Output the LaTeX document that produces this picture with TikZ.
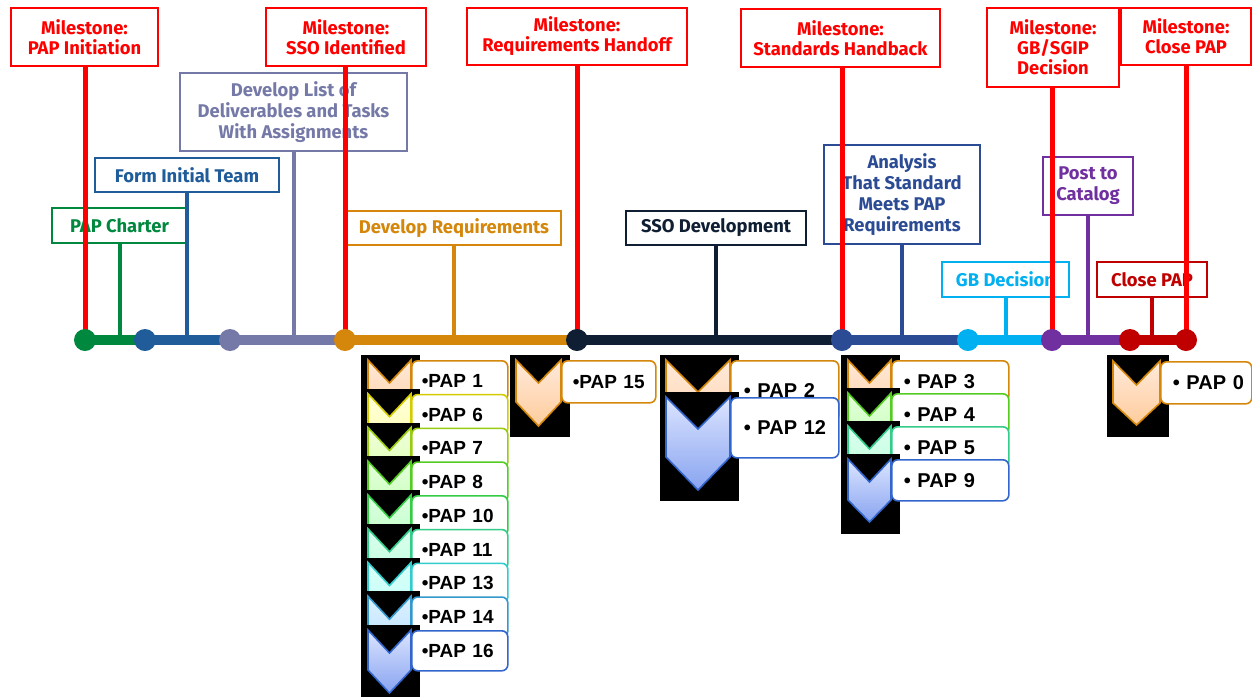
\documentclass[tikz,border=0pt]{standalone}
\usepackage{fontspec}
\setmainfont{Fira Sans}
\newfontfamily\arialfont{Liberation Sans}
\definecolor{gGreen}{HTML}{00883E}
\definecolor{gTeam}{HTML}{1F5C99}
\definecolor{gSlate}{HTML}{7579A7}
\definecolor{gOrange}{HTML}{D4870A}
\definecolor{gNavy}{HTML}{0F1E33}
\definecolor{gAna}{HTML}{2B4C94}
\definecolor{gSky}{HTML}{00B0F0}
\definecolor{gPurple}{HTML}{7030A0}
\definecolor{gDark}{HTML}{C00000}
% chevron borders and fills
\definecolor{cOrange}{HTML}{D4870A}\definecolor{tOrange}{HTML}{FFEADB}\definecolor{bOrange}{HTML}{FFCC9C}
\definecolor{cYellow}{HTML}{D4CC00}\definecolor{tYellow}{HTML}{FFFFDC}\definecolor{bYellow}{HTML}{FFFFA8}
\definecolor{cLime}{HTML}{99CC11}\definecolor{tLime}{HTML}{F0FFDC}\definecolor{bLime}{HTML}{D8FFA8}
\definecolor{cGreenA}{HTML}{55CC22}\definecolor{tGreenA}{HTML}{E4FFDC}\definecolor{bGreenA}{HTML}{C0FFB0}
\definecolor{cGreenB}{HTML}{33CC44}\definecolor{tGreenB}{HTML}{DCFFE0}\definecolor{bGreenB}{HTML}{B8FFC0}
\definecolor{cGreenC}{HTML}{33CC88}\definecolor{tGreenC}{HTML}{DCFFEE}\definecolor{bGreenC}{HTML}{B8FFDA}
\definecolor{cCyan}{HTML}{33CCCC}\definecolor{tCyan}{HTML}{DCFFFA}\definecolor{bCyan}{HTML}{B8FFF4}
\definecolor{cSkyB}{HTML}{3399CC}\definecolor{tSkyB}{HTML}{DCF0FF}\definecolor{bSkyB}{HTML}{B8E0FF}
\definecolor{cBlue}{HTML}{3366CC}\definecolor{tBlue}{HTML}{DCE4FF}\definecolor{bBlue}{HTML}{88A4F0}
\tikzset{
  milebox/.style={draw=red, line width=1pt, fill=white, text=red, align=center, inner sep=0pt, font=\bfseries\fontsize{9.2}{10}\selectfont},
  taskbox/.style={draw=#1, text=#1, line width=1pt, fill=white, align=center, inner sep=0pt, font=\bfseries\fontsize{9.2}{10.5}\selectfont},
  stem/.style={line width=2pt},
  redline/.style={red, line width=2.5pt},
  seg/.style={line width=5pt},
  dot/.style={circle, fill=#1, inner sep=0pt, minimum size=11pt},
  papbox/.style={draw=c#1, fill=white, line width=0.8pt, rounded corners=3pt, inner ysep=0pt, align=left, anchor=north west},
  chev/.style={draw=c#1, line width=0.8pt, top color=t#1, bottom color=b#1},
}
\begin{document}
\begin{tikzpicture}[x=0.5pt,y=-0.5pt]
\useasboundingbox (0,0) rectangle (1252,698);
\node[milebox, minimum width=73.5pt, minimum height=29pt] (m1) at (84.5,37) {Milestone:\\PAP Initiation};
\node[milebox, minimum width=80pt, minimum height=29pt] (m2) at (346,37) {Milestone:\\SSO Identified};
\node[milebox, minimum width=110pt, minimum height=28.5pt] (m3) at (577,36.5) {Milestone:\\Requirements Handoff};
\node[milebox, minimum width=99.5pt, minimum height=29pt] (m4) at (840.5,38) {Milestone:\\Standards Handback};
\node[milebox, minimum width=66pt, minimum height=39.5pt] (m5) at (1053,47.5) {Milestone:\\GB/SGIP\\Decision};
\node[milebox, minimum width=65pt, minimum height=28.5pt] (m6) at (1186,36.5) {Milestone:\\Close PAP};
\node[taskbox=gGreen, minimum width=67.5pt, minimum height=17.5pt] (charter) at (119.5,225.5) {PAP Charter};
\node[taskbox=gTeam, minimum width=92pt, minimum height=17pt] (team) at (187,175) {Form Initial Team};
\node[taskbox=gSlate, minimum width=113.5pt, minimum height=39pt] (devlist) at (293.5,112) {Develop List of\\Deliverables and Tasks\\With Assignments};
\node[taskbox=gOrange, minimum width=107pt, minimum height=17pt] (devreq) at (454,228) {Develop Requirements};
\node[taskbox=gNavy, minimum width=90pt, minimum height=17pt] (ssodev) at (716,228) {SSO Development};
\node[taskbox=gAna, minimum width=78pt, minimum height=49.5pt] (analysis) at (902,194.5) {Analysis\\That Standard\\Meets PAP\\Requirements};
\node[taskbox=gSky, minimum width=63.5pt, minimum height=17.5pt] (gbdec) at (1005.5,279.5) {GB Decision};
\node[taskbox=gPurple, minimum width=45pt, minimum height=29pt] (catalog) at (1088,186) {Post to\\Catalog};
\node[taskbox=gDark, minimum width=55pt, minimum height=17.5pt] (closepap) at (1152,279.5) {Close PAP};
\coordinate (d1) at (85,340);
\coordinate (d2) at (145,340);
\coordinate (d3) at (230,340);
\coordinate (d4) at (345,340);
\coordinate (d5) at (577,340);
\coordinate (d6) at (842,340);
\coordinate (d7) at (968,340);
\coordinate (d8) at (1052,340);
\coordinate (d9) at (1130,340);
\coordinate (d10) at (1186,340);
\foreach \n/\c in {charter/gGreen,team/gTeam,devlist/gSlate,devreq/gOrange,ssodev/gNavy,analysis/gAna,gbdec/gSky,catalog/gPurple,closepap/gDark}
  \draw[stem, \c] (\n.south) -- (\n.south |- d1);
\foreach \m/\d in {m1/d1,m2/d4,m3/d5,m4/d6,m5/d8,m6/d10}
  \draw[redline] (\d |- \m.south) -- (\d);
\foreach \a/\b/\c in {d1/d2/gGreen,d2/d3/gTeam,d3/d4/gSlate,d4/d5/gOrange,d5/d6/gNavy,d6/d7/gAna,d7/d8/gSky,d8/d9/gPurple,d9/d10/gDark}
  \draw[seg, \c] (\a) -- (\b);
\foreach \d/\c in {d1/gGreen,d2/gTeam,d3/gSlate,d4/gOrange,d5/gNavy,d6/gAna,d7/gSky,d8/gPurple,d9/gDark,d10/gDark}
  \node[dot=\c] (dot\d) at (\d) {};
\foreach \k/\lab/\cn in {0/1/Orange,1/6/Yellow,2/7/Lime,3/8/GreenA,4/10/GreenB,5/11/GreenC,6/13/Cyan,7/14/SkyB,8/16/Blue}{
  \pgfmathsetmacro\ty{360+33.75*\k}
  \fill (361,\ty-5) rectangle (420,\ty+67);
  \node[papbox=\cn, minimum height=20pt, text width=38pt, inner xsep=5pt, font=\arialfont\bfseries\fontsize{9.5}{10}\selectfont] (pap\lab) at (411,\ty) {\mbox{•PAP \lab}};
  \path[chev=\cn] (368,\ty) -- (389.5,\ty+23) -- (411,\ty) -- (411,\ty+40) -- (389.5,\ty+63) -- (368,\ty+40) -- cycle;
}
\fill (510,355) rectangle (570,437);
\node[papbox=Orange, minimum height=21pt, text width=36pt, inner xsep=5.5pt, font=\arialfont\bfseries\fontsize{9.5}{10}\selectfont] (pap15) at (561,360) {\mbox{•PAP 15}};
\path[chev=Orange] (516,360) -- (538.5,383) -- (561,360) -- (561,402) -- (538.5,426) -- (516,402) -- cycle;
\foreach \k/\lab/\cn in {0/2/Orange,1/12/Blue}{
  \pgfmathsetmacro\ty{360+37*\k}
  \fill (660,\ty-5) rectangle (739,\ty+104);
  \node[papbox=\cn, minimum height=30pt, text width=41pt, inner xsep=6.5pt, font=\arialfont\bfseries\fontsize{10}{10}\selectfont] (pap\lab) at (730,\ty) {\mbox{• PAP \lab}};
  \path[chev=\cn] (666,\ty) -- (698,\ty+32) -- (730,\ty) -- (730,\ty+60) -- (698,\ty+93) -- (666,\ty+60) -- cycle;
}
\foreach \k/\lab/\cn in {0/3/Orange,1/4/GreenA,2/5/GreenC,3/9/Blue}{
  \pgfmathsetmacro\ty{360+33*\k}
  \fill (841,\ty-5) rectangle (900,\ty+75);
  \node[papbox=\cn, minimum height=20.5pt, text width=46.5pt, inner xsep=6pt, font=\arialfont\bfseries\fontsize{10}{10}\selectfont] (pap\lab) at (891,\ty) {\mbox{• PAP \lab}};
  \path[chev=\cn] (848,\ty) -- (869.5,\ty+23) -- (891,\ty) -- (891,\ty+41) -- (869.5,\ty+63) -- (848,\ty+41) -- cycle;
}
\fill (1107,355) rectangle (1169,437);
\node[papbox=Orange, minimum height=21pt, text width=33.5pt, inner xsep=6pt, font=\arialfont\bfseries\fontsize{10}{10}\selectfont] (pap0) at (1160,361) {\mbox{• PAP 0}};
\path[chev=Orange] (1113,361) -- (1136.5,385) -- (1160,361) -- (1160,403) -- (1136.5,425) -- (1113,403) -- cycle;
\end{tikzpicture}
\end{document}
